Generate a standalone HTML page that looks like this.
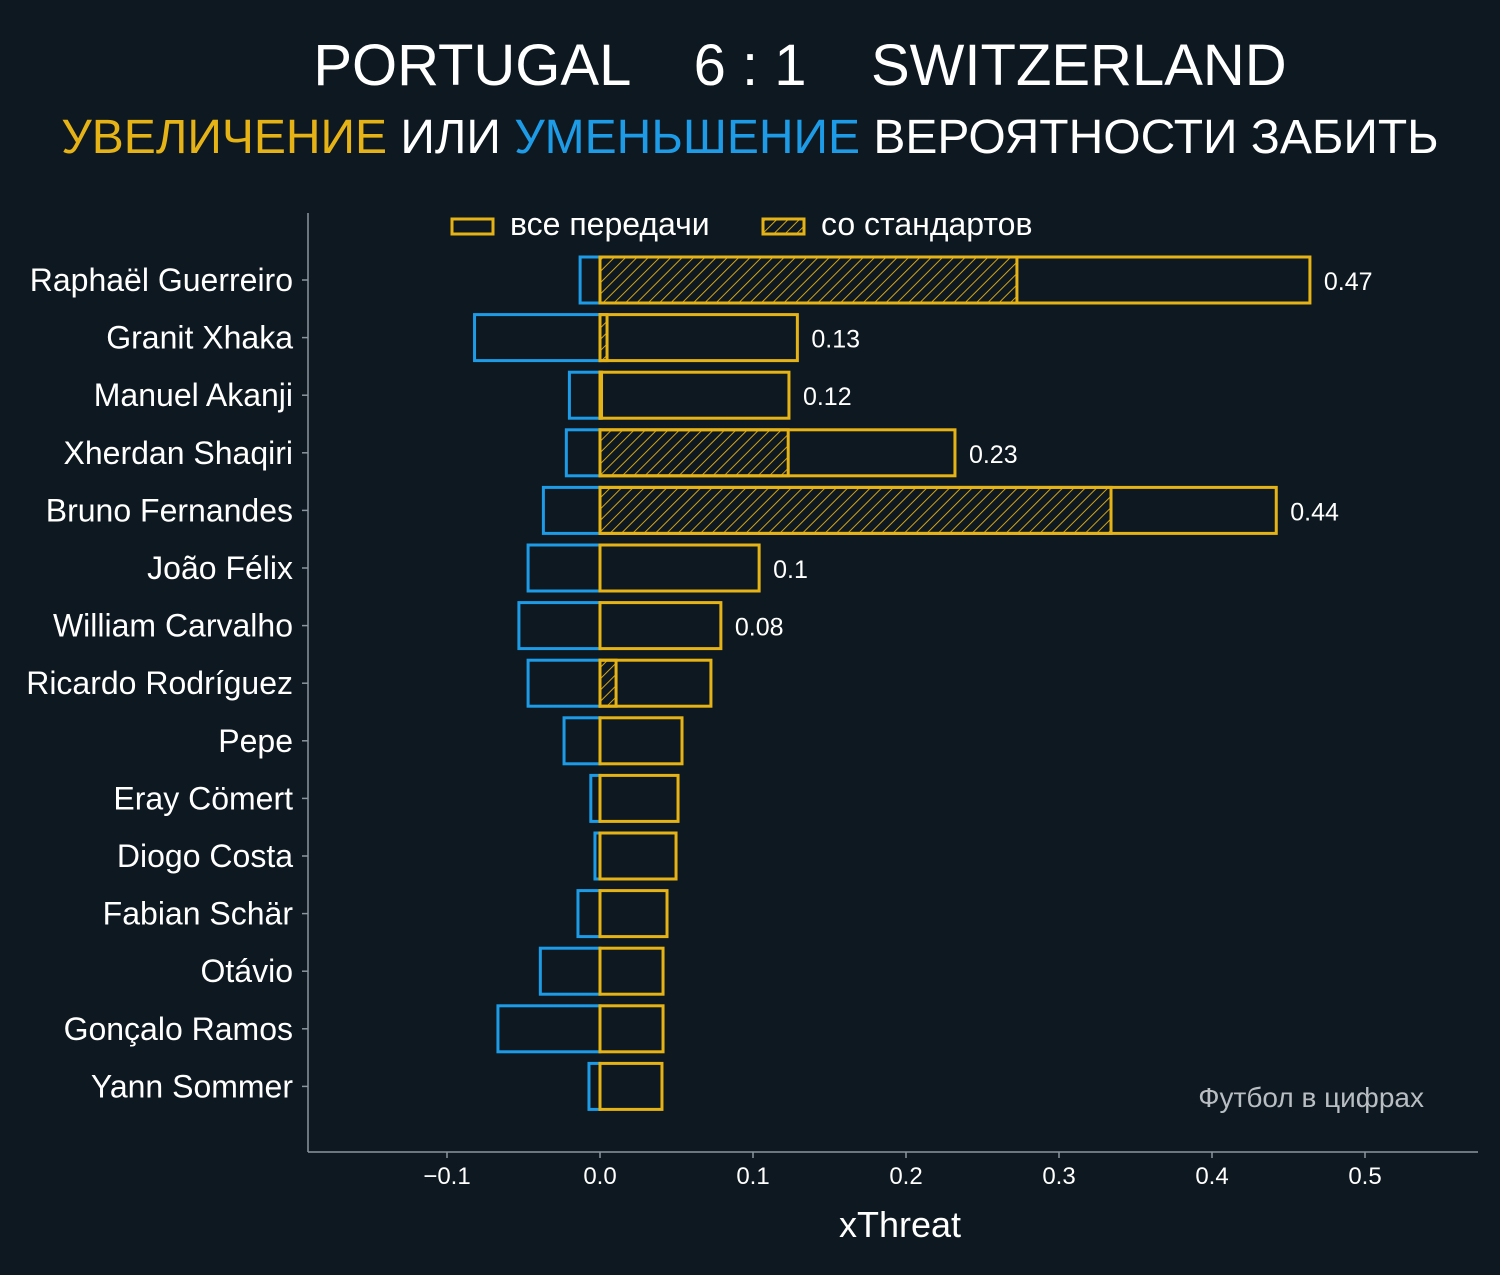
<!DOCTYPE html>
<html><head><meta charset="utf-8"><style>
body{margin:0;background:#0e1820;}
svg{display:block;font-family:"Liberation Sans","DejaVu Sans",sans-serif;}
</style></head><body>
<svg id="chart" width="1500" height="1275" viewBox="0 0 1500 1275" xmlns="http://www.w3.org/2000/svg">
<defs>
<pattern id="hatch" width="8" height="8" patternUnits="userSpaceOnUse" patternTransform="rotate(45)">
<line x1="0" y1="0" x2="0" y2="8" stroke="#e6b316" stroke-width="1.8"/>
</pattern>
</defs>
<rect width="1500" height="1275" fill="#0e1820"/>
<text x="800" y="85" text-anchor="middle" fill="#ffffff" font-size="58" style="white-space:pre">PORTUGAL    6 : 1    SWITZERLAND</text>
<text x="750" y="153" text-anchor="middle" font-size="48"><tspan fill="#e6b316">УВЕЛИЧЕНИЕ</tspan><tspan fill="#ffffff"> ИЛИ </tspan><tspan fill="#1e9be6">УМЕНЬШЕНИЕ</tspan><tspan fill="#ffffff"> ВЕРОЯТНОСТИ ЗАБИТЬ</tspan></text>
<g>
<rect x="452" y="219" width="41" height="15" fill="none" stroke="#e6b316" stroke-width="3"/>
<text x="510" y="235" fill="#ffffff" font-size="32">все передачи</text>
<rect x="763" y="219" width="41" height="15" fill="url(#hatch)" stroke="#e6b316" stroke-width="3"/>
<text x="821" y="235" fill="#ffffff" font-size="32">со стандартов</text>
</g>
<g id="plot"></g>
<line x1="308" y1="213" x2="308" y2="1152" stroke="#8a969e" stroke-width="1.5"/>
<line x1="308" y1="1152" x2="1478" y2="1152" stroke="#8a969e" stroke-width="1.5"/>
<text x="900" y="1237" text-anchor="middle" fill="#ffffff" font-size="36">xThreat</text>
<text x="1424" y="1107" text-anchor="end" fill="#b8bec2" font-size="28">Футбол в цифрах</text>
</svg>
<script>
const players=["Raphaël Guerreiro","Granit Xhaka","Manuel Akanji","Xherdan Shaqiri","Bruno Fernandes","João Félix","William Carvalho","Ricardo Rodríguez","Pepe","Eray Cömert","Diogo Costa","Fabian Schär","Otávio","Gonçalo Ramos","Yann Sommer"];
const positiveXT=[0.464,0.129,0.1235,0.232,0.442,0.104,0.079,0.0725,0.0536,0.051,0.0497,0.0438,0.0412,0.0412,0.0405];
const setPieceXT=[0.2725,0.0046,0.001,0.123,0.334,0,0,0.0105,0,0,0,0,0,0,0];
const negativeXT=[-0.013,-0.082,-0.020,-0.022,-0.037,-0.047,-0.053,-0.047,-0.0235,-0.006,-0.0033,-0.0144,-0.039,-0.0667,-0.0072];
const valueLabels=["0.47","0.13","0.12","0.23","0.44","0.1","0.08","","","","","","","",""];
const xTicks=[-0.1,0,0.1,0.2,0.3,0.4,0.5];
const xTickLabels=["−0.1","0.0","0.1","0.2","0.3","0.4","0.5"];

const NS="http://www.w3.org/2000/svg";
const plot=document.getElementById('plot');
const X=v=>600+v*1530;
const Y=i=>280+i*57.6;
const BH=46;
function mk(tag,attrs){const e=document.createElementNS(NS,tag);for(const k in attrs)e.setAttribute(k,attrs[k]);plot.appendChild(e);return e;}
players.forEach((p,i)=>{
  const y=Y(i);
  const t=mk('text',{x:293,y:y+11,'text-anchor':'end',fill:'#ffffff','font-size':32});
  t.textContent=p;
  
  
  const tk=mk('line',{x1:302,x2:308,y1:y,y2:y,stroke:'#8a969e','stroke-width':1.5});
  
  
  const n=mk('rect',{x:X(negativeXT[i]),y:y-BH/2,width:X(0)-X(negativeXT[i]),height:BH,fill:'none',stroke:'#1e9be6','stroke-width':3});
  
  
  if(setPieceXT[i]>0){
    const s=mk('rect',{x:X(0),y:y-BH/2,width:X(setPieceXT[i])-X(0),height:BH,fill:'url(#hatch)',stroke:'#e6b316','stroke-width':3});
    
    
  }
  const b=mk('rect',{x:X(0),y:y-BH/2,width:X(positiveXT[i])-X(0),height:BH,fill:'none',stroke:'#e6b316','stroke-width':3});
  
  
  if(valueLabels[i]){
    const v=mk('text',{x:X(positiveXT[i])+14,y:y+10,fill:'#ffffff','font-size':25});
    v.textContent=valueLabels[i];
    
    
  }
});
xTicks.forEach((v,i)=>{
  const tk=mk('line',{x1:X(v),x2:X(v),y1:1152,y2:1158,stroke:'#8a969e','stroke-width':1.5});
  
  
  const t=mk('text',{x:X(v),y:1184,'text-anchor':'middle',fill:'#ffffff','font-size':24});
  t.textContent=xTickLabels[i];
  
  
});
</script>
</body></html>
